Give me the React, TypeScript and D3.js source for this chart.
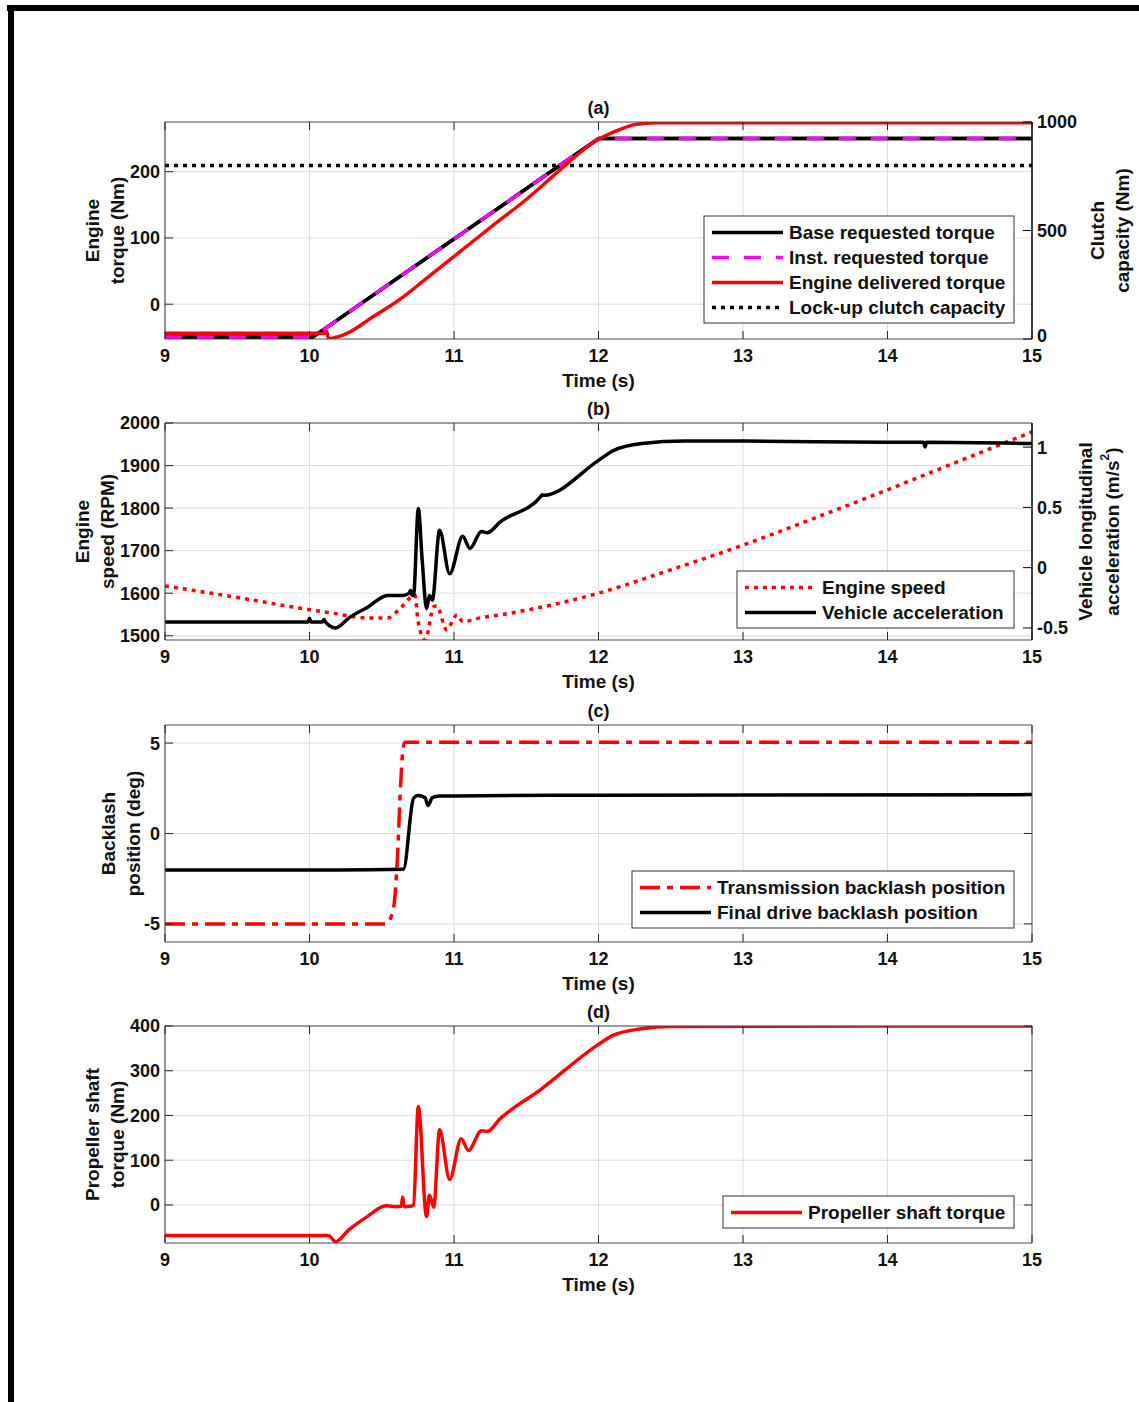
import React from 'react';
import * as d3 from 'd3';

const FONT = "'Liberation Sans', Arial, Helvetica, sans-serif";

// shared time axis
const X_TICKS = [9, 10, 11, 12, 13, 14, 15];

// (a) engine torque
const T_REQ = [9, 10.02, 12.0, 15];
const BASE_REQ_TQ = [-50, -50, 250, 250];
const INST_REQ_TQ = [-50, -50, 250, 250];
const T_DELIV = [9, 10.1, 10.12, 10.13, 10.2, 10.26, 10.44, 10.63, 10.81, 11.04, 11.27, 11.5, 11.73, 11.92, 12.01, 12.15, 12.25, 12.4, 15];
const DELIV_TQ = [-44, -44, -41, -52, -49, -44, -19, 8, 39, 79, 119, 158, 202, 237, 250, 264, 271, 274, 274];
const T_CLUTCH = [9, 15];
const CLUTCH_CAP = [800, 800];
const A_LEFT_TICKS = [0, 100, 200];
const A_RIGHT_TICKS = [0, 500, 1000];

// (b) engine speed / vehicle acceleration
const T_SPEED = [9, 9.5, 9.93, 10.16, 10.4, 10.54, 10.63, 10.73, 10.75, 10.8, 10.86, 10.88, 10.95, 11.02, 11.06, 11.18, 11.32, 11.5, 12, 12.5, 13, 13.5, 14, 14.5, 15];
const ENGINE_SPEED = [1617, 1590, 1565, 1553, 1542, 1542, 1565, 1596, 1537, 1490, 1568, 1570, 1514, 1549, 1533, 1542, 1549, 1560, 1600, 1655, 1713, 1777, 1843, 1911, 1979];
const T_ACC = [9, 9.99, 10.0, 10.01, 10.09, 10.1, 10.11, 10.18, 10.28, 10.4, 10.54, 10.65, 10.69, 10.7, 10.71, 10.72, 10.753, 10.78, 10.81, 10.83, 10.85, 10.9, 10.97, 11.06, 11.11, 11.19, 11.23, 11.32, 11.6, 11.61, 11.62, 12, 12.1, 12.3, 12.6, 13, 14, 14.25, 14.26, 14.27, 15];
const VEH_ACC = [-0.45, -0.45, -0.42, -0.45, -0.45, -0.43, -0.45, -0.5, -0.41, -0.33, -0.23, -0.23, -0.21, -0.19, -0.23, -0.23, 0.49, 0.06, -0.34, -0.23, -0.27, 0.31, -0.05, 0.26, 0.16, 0.3, 0.29, 0.38, 0.59, 0.605, 0.6, 0.89, 0.97, 1.03, 1.05, 1.05, 1.04, 1.04, 1.0, 1.04, 1.03];
const B_LEFT_TICKS = [1500, 1600, 1700, 1800, 1900, 2000];
const B_RIGHT_TICKS = [-0.5, 0, 0.5, 1];

// (c) backlash positions
const T_TRANS = [9, 10.53, 10.58, 10.61, 10.63, 10.645, 10.66, 10.68, 15];
const TRANS_BL = [-5, -5, -4.2, -1.1, 2.6, 4.5, 5.05, 5.05, 5.05];
const T_FD = [9, 10.2, 10.65, 10.72, 10.75, 10.8, 10.82, 10.85, 10.9, 11, 12, 15];
const FD_BL = [-2.02, -2.02, -1.98, 1.95, 2.1, 1.98, 1.55, 1.98, 2.07, 2.08, 2.12, 2.15];
const C_TICKS = [-5, 0, 5];

// (d) propeller shaft torque
const T_PROP = [9, 10.13, 10.18, 10.27, 10.4, 10.53, 10.6, 10.635, 10.645, 10.655, 10.7, 10.72, 10.753, 10.81, 10.83, 10.86, 10.9, 10.97, 11.05, 11.1, 11.19, 11.23, 11.32, 11.6, 12, 12.1, 12.3, 12.5, 15];
const PROP_TQ = [-68, -68, -82, -56, -26, -2, -4, -3, 18, -4, -3, 0, 220, -26, 22, -5, 168, 57, 148, 122, 166, 164, 193, 258, 359, 379, 394, 399, 400];
const D_TICKS = [0, 100, 200, 300, 400];

const X0 = 165;
const X1 = 1032;
const PH = 217;
const LW = 3.5;

type Series = {
  t: number[];
  v: number[];
  axis?: 'left' | 'right';
  color: string;
  dash?: string;
  label: string;
  under?: string; // solid colour drawn under a dashed line
  linear?: boolean;
};

type PanelProps = {
  id: string;
  top: number;
  title: string;
  yDomain: [number, number];
  yTicks: number[];
  rDomain?: [number, number];
  rTicks?: number[];
  series: Series[];
  legendX: number;
  legendY: number;
  legendSeries: Series[];
  leftLabel: [string, string];
  leftLabelX: [number, number];
  rightLabel?: React.ReactNode[];
  rightLabelX?: [number, number];
};

const Panel = (p: PanelProps) => {
  const bottom = p.top + PH;
  const midY = p.top + PH / 2;
  const x = d3.scaleLinear().domain([9, 15]).range([X0, X1]);
  const y = d3.scaleLinear().domain(p.yDomain).range([bottom, p.top]);
  const yr = p.rDomain ? d3.scaleLinear().domain(p.rDomain).range([bottom, p.top]) : null;

  const pathOf = (s: Series) => {
    const sc = s.axis === 'right' && yr ? yr : y;
    return d3.line<number>()
      .x((_, i) => x(s.t[i]))
      .y(d => sc(d))
      .curve(s.linear ? d3.curveLinear : d3.curveMonotoneX)(s.v) || '';
  };

  const legH = 32 + (p.legendSeries.length - 1) * 25;
  const legW = X1 - 18 - p.legendX;
  const tickCol = '#262626';
  const boxCol = '#4a4a4a';

  return (
    <g fontFamily={FONT} fontWeight="bold">
      <defs>
        <clipPath id={`clip-${p.id}`}>
          <rect x={X0} y={p.top} width={X1 - X0} height={PH} />
        </clipPath>
      </defs>
      {/* grid */}
      {X_TICKS.slice(1, -1).map(t => (
        <line key={`gx${t}`} x1={x(t)} x2={x(t)} y1={p.top} y2={bottom} stroke="#dcdcdc" strokeWidth={1} />
      ))}
      {p.yTicks.map(v => (
        <line key={`gy${v}`} x1={X0} x2={X1} y1={y(v)} y2={y(v)} stroke="#dcdcdc" strokeWidth={1} />
      ))}

      {/* data */}
      <g clipPath={`url(#clip-${p.id})`}>
        {p.series.map((s, i) => (
          <g key={i}>
            {s.under && <path d={pathOf(s)} fill="none" stroke={s.under} strokeWidth={LW} />}
            <path d={pathOf(s)} fill="none" stroke={s.color} strokeWidth={LW} strokeDasharray={s.dash} strokeLinejoin="round" />
          </g>
        ))}
      </g>

      {/* box */}
      <line x1={X0} x2={X1} y1={p.top} y2={p.top} stroke={boxCol} strokeWidth={1} />
      <line x1={X0} x2={X1} y1={bottom} y2={bottom} stroke={boxCol} strokeWidth={1} />
      <line x1={X0} x2={X0} y1={p.top} y2={bottom} stroke={boxCol} strokeWidth={1.2} />
      <line x1={X1} x2={X1} y1={p.top} y2={bottom} stroke={yr ? '#000' : boxCol} strokeWidth={yr ? 1.5 : 1} />

      {/* x ticks */}
      {X_TICKS.map(t => (
        <g key={`xt${t}`}>
          <line x1={x(t)} x2={x(t)} y1={bottom} y2={bottom - 8} stroke={tickCol} />
          <line x1={x(t)} x2={x(t)} y1={p.top} y2={p.top + 8} stroke={tickCol} />
          <text x={x(t)} y={bottom + 23} textAnchor="middle" fontSize={18} fill="#111">{t}</text>
        </g>
      ))}
      <text x={(X0 + X1) / 2} y={bottom + 47.5} textAnchor="middle" fontSize={19} fill="#111">Time (s)</text>
      <text x={(X0 + X1) / 2} y={p.top - 8} textAnchor="middle" fontSize={18} fill="#111">{p.title}</text>

      {/* left y ticks */}
      {p.yTicks.map(v => (
        <g key={`yt${v}`}>
          <line x1={X0} x2={X0 + 8} y1={y(v)} y2={y(v)} stroke={tickCol} />
          {!yr && <line x1={X1} x2={X1 - 8} y1={y(v)} y2={y(v)} stroke={tickCol} />}
          <text x={160} y={y(v)} dy="0.36em" textAnchor="end" fontSize={18} fill="#111">{v}</text>
        </g>
      ))}
      {/* right y ticks */}
      {yr && p.rTicks && p.rTicks.map(v => (
        <g key={`rt${v}`}>
          <line x1={X1} x2={X1 - 9} y1={yr(v)} y2={yr(v)} stroke="#000" />
          <text x={1037} y={yr(v) - (Math.abs(yr(v) - bottom) < 2 ? 3 : 0)} dy="0.36em" textAnchor="start" fontSize={18} fill="#111">{v}</text>
        </g>
      ))}

      {/* axis labels */}
      {p.leftLabel.map((l, i) => (
        <text key={`ll${i}`} transform={`translate(${p.leftLabelX[i]},${midY}) rotate(-90)`} textAnchor="middle" dominantBaseline="central" fontSize={19} fill="#111">{l}</text>
      ))}
      {p.rightLabel && p.rightLabelX && p.rightLabel.map((l, i) => (
        <text key={`rl${i}`} transform={`translate(${p.rightLabelX![i]},${midY}) rotate(-90)`} textAnchor="middle" dominantBaseline="central" fontSize={19} fill="#111">{l}</text>
      ))}

      {/* legend */}
      <rect x={p.legendX} y={p.legendY} width={legW} height={legH} fill="#fff" stroke="#333" strokeWidth={1} />
      {p.legendSeries.map((s, i) => {
        const ry = p.legendY + 16.5 + i * 25;
        return (
          <g key={`lg${i}`}>
            {s.under && <line x1={p.legendX + 8} x2={p.legendX + 79} y1={ry} y2={ry} stroke={s.under} strokeWidth={LW} />}
            <line x1={p.legendX + 8} x2={p.legendX + 79} y1={ry} y2={ry} stroke={s.color} strokeWidth={LW} strokeDasharray={s.dash} />
            <text x={p.legendX + 85} y={ry} dy="0.36em" fontSize={19} fill="#111">{s.label}</text>
          </g>
        );
      })}
    </g>
  );
};

const App = () => {
  const base: Series = { t: T_REQ, v: BASE_REQ_TQ, color: '#000', label: 'Base requested torque', linear: true };
  const inst: Series = { t: T_REQ, v: INST_REQ_TQ, color: '#ff00ff', dash: '17 15', label: 'Inst. requested torque', linear: true };
  const instPlot: Series = { ...inst, under: '#000' };
  const deliv: Series = { t: T_DELIV, v: DELIV_TQ, color: '#ff0000', label: 'Engine delivered torque' };
  const clutch: Series = { t: T_CLUTCH, v: CLUTCH_CAP, axis: 'right', color: '#000', dash: '4 5', label: 'Lock-up clutch capacity', linear: true };

  const speed: Series = { t: T_SPEED, v: ENGINE_SPEED, color: '#ff0000', dash: '4 5', label: 'Engine speed' };
  const acc: Series = { t: T_ACC, v: VEH_ACC, axis: 'right', color: '#000', label: 'Vehicle acceleration' };

  const trans: Series = { t: T_TRANS, v: TRANS_BL, color: '#ff0000', dash: '20 7 6 7', label: 'Transmission backlash position' };
  const fd: Series = { t: T_FD, v: FD_BL, color: '#000', label: 'Final drive backlash position' };

  const prop: Series = { t: T_PROP, v: PROP_TQ, color: '#ff0000', label: 'Propeller shaft torque' };

  return (
    <svg width={1139} height={1402} style={{ position: 'absolute', left: 0, top: 0, background: '#fff' }}>
      <rect x={0} y={0} width={1139} height={1402} fill="#fff" />
      <rect x={7} y={5} width={1132} height={6} fill="#000" />
      <rect x={8} y={5} width={6} height={1397} fill="#000" />

      <Panel id="a" top={122} title="(a)" yDomain={[-52.5, 275]} yTicks={A_LEFT_TICKS}
        rDomain={[0, 1000]} rTicks={A_RIGHT_TICKS}
        series={[clutch, base, instPlot, deliv]}
        legendX={704} legendY={216} legendSeries={[base, inst, deliv, clutch]}
        leftLabel={['Engine', 'torque (Nm)']} leftLabelX={[92, 117]}
        rightLabel={['Clutch', 'capacity (Nm)']} rightLabelX={[1097, 1122]} />

      <Panel id="b" top={423} title="(b)" yDomain={[1490, 2000]} yTicks={B_LEFT_TICKS}
        rDomain={[-0.6, 1.2]} rTicks={B_RIGHT_TICKS}
        series={[speed, acc]}
        legendX={737} legendY={571} legendSeries={[speed, acc]}
        leftLabel={['Engine', 'speed (RPM)']} leftLabelX={[82, 107]}
        rightLabel={['Vehicle longitudinal', <>acceleration (m/s<tspan dy={-7} fontSize={12}>2</tspan><tspan dy={7}>)</tspan></>]}
        rightLabelX={[1085, 1112]} />

      <Panel id="c" top={725} title="(c)" yDomain={[-6, 6]} yTicks={C_TICKS}
        series={[trans, fd]}
        legendX={632} legendY={871} legendSeries={[trans, fd]}
        leftLabel={['Backlash', 'position (deg)']} leftLabelX={[108, 133]} />

      <Panel id="d" top={1026} title="(d)" yDomain={[-85, 400]} yTicks={D_TICKS}
        series={[prop]}
        legendX={723} legendY={1196} legendSeries={[prop]}
        leftLabel={['Propeller shaft', 'torque (Nm)']} leftLabelX={[92, 117]} />
    </svg>
  );
};

export default App;
